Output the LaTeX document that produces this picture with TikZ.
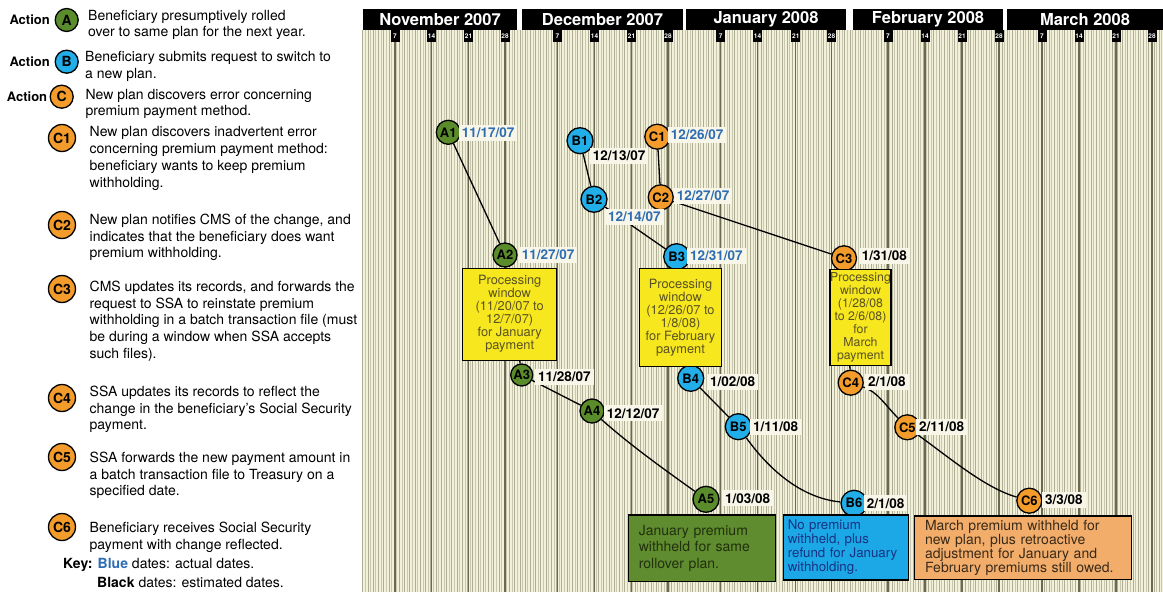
\documentclass[tikz,border=0pt]{standalone}
\usepackage{fontspec}
\setmainfont{TeX Gyre Heros}
\pgfdeclarelayer{bg}
\pgfdeclarelayer{lines}
\pgfsetlayers{bg,lines,main}
\definecolor{cream}{HTML}{F4F1DA}
\definecolor{stripeA}{HTML}{ADAE94}
\definecolor{stripeB}{HTML}{C8C8B0}
\definecolor{weekc}{HTML}{6A6A52}
\definecolor{gA}{HTML}{5B8C2C}
\definecolor{bB}{HTML}{22AEE8}
\definecolor{oC}{HTML}{F39B2B}
\definecolor{datebl}{HTML}{2E6DB4}
\definecolor{lblbg}{HTML}{F8F6E8}
\definecolor{yel}{HTML}{F6E71E}
\definecolor{ytext}{HTML}{5A5224}
\definecolor{gboxc}{HTML}{5F8C2E}
\definecolor{gtext}{HTML}{22300E}
\definecolor{bboxc}{HTML}{1CA8E6}
\definecolor{btext}{HTML}{173283}
\definecolor{oboxc}{HTML}{F2AD6B}
\definecolor{otext}{HTML}{3A2A18}
\begin{document}
\begin{tikzpicture}[x=1pt,y=-1pt,
  ev/.style={circle, draw=black, line width=1.3pt, inner sep=0pt, minimum size=25pt, font=\fontsize{13}{13}\selectfont\bfseries},
  evA/.style={ev, fill=gA, minimum size=24pt},
  evB/.style={ev, fill=bB, minimum size=26pt},
  evC/.style={ev, fill=oC},
  legA/.style={ev, fill=gA, minimum size=23pt, font=\fontsize{14}{14}\selectfont\bfseries},
  legB/.style={legA, fill=bB},
  legC/.style={legA, fill=oC},
  legCn/.style={legC, minimum size=27pt},
  dt/.style={anchor=west, fill=lblbg, inner xsep=3pt, inner ysep=3pt, font=\fontsize{13.5}{14}\selectfont\bfseries},
  dtb/.style={dt, text=datebl},
  link/.style={line width=1.3pt},
  pwin/.style={draw=black, line width=1.4pt, fill=yel, text=ytext, align=center, font=\fontsize{12.8}{13}\selectfont, inner sep=0pt},
  resbox/.style={draw=black, line width=1.4pt, align=left, inner ysep=0pt},
  leg/.style={anchor=north west, align=left, font=\fontsize{14}{16.7}\selectfont, inner sep=0pt},
  act/.style={anchor=west, inner sep=0pt, font=\fontsize{13}{13}\selectfont\bfseries},
  monthbar/.style={fill=black, text=white, inner sep=0pt, minimum height=21pt, font=\fontsize{16.5}{16.5}\selectfont\bfseries},
  wk/.style={fill=black, text=white, inner sep=0pt, minimum width=9pt, minimum height=12pt, font=\fontsize{6.5}{6.5}\selectfont\bfseries}
]
\useasboundingbox (0,0) rectangle (1163,597);
\begin{pgfonlayer}{bg}
\fill[white] (0,0) rectangle (1163,597);
\fill[cream] (362,30) rectangle (1163,592);
\foreach \i in {0,2,...,304} \draw[stripeA, line width=1pt] ({362.8+\i*2.62},30) -- ++(0,562);
\foreach \i in {1,3,...,305} \draw[stripeB, line width=0.9pt] ({362.8+\i*2.62},30) -- ++(0,562);
\foreach \x in {395,431.5,468.5,505,557.5,594.5,631.5,668,720.8,757.5,795.8,831.5,888,925,962,999,1042,1079,1116,1152}
  \draw[weekc, line width=1.1pt] (\x,40) -- (\x,592);
\end{pgfonlayer}

% month header
\foreach \xa/\xb/\nm/\id in {363/517/November 2007/mNov, 522/683/December 2007/mDec, 686/846/January 2008/mJan, 853/1003/February 2008/mFeb, 1007/1163/March 2008/mMar}
  \node[monthbar, minimum width={\xb-\xa}] (\id) at ({(\xa+\xb)/2},19.5) {\nm};
\foreach \x/\d/\id in {395/7/w1,431.5/14/w2,468.5/21/w3,505/28/w4,557.5/7/w5,594.5/14/w6,631.5/21/w7,668/28/w8,720.8/7/w9,757.5/14/w10,795.8/21/w11,831.5/28/w12,888/7/w13,925/14/w14,962/21/w15,999/28/w16,1042/7/w17,1079/14/w18,1116/21/w19,1152/28/w20}
  \node[wk] (\id) at (\x,36) {\d};

% legend
\node[act] (actA) at (9.3,20) {Action};
\node[legA] (lA) at (66.7,20) {A};
\node[leg] (tA) at (88,9.8) {Beneficiary presumptively rolled\\over to same plan for the next year.};
\node[act] (actB) at (9.3,61.7) {Action};
\node[legB] (lB) at (66.7,61.7) {B};
\node[leg] (tB) at (85,51.5) {Beneficiary submits request to switch to\\a new plan.};
\node[act] (actC) at (6.7,96.7) {Action};
\node[legC] (lC) at (61.7,96.7) {C};
\node[leg] (tC) at (85.3,88.8) {New plan discovers error concerning\\premium payment method.};
\node[legCn] (lC1) at (62,138) {C1};
\node[leg] (tC1) at (89.5,126.5) {New plan discovers inadvertent error\\concerning premium payment method:\\beneficiary wants to keep premium\\withholding.};
\node[legCn] (lC2) at (62,225) {C2};
\node[leg] (tC2) at (89.5,213.8) {New plan notifies CMS of the change, and\\indicates that the beneficiary does want\\premium withholding.};
\node[legCn] (lC3) at (62,289) {C3};
\node[leg] (tC3) at (89.5,280.8) {CMS updates its records, and forwards the\\request to SSA to reinstate premium\\withholding in a batch transaction file (must\\be during a window when SSA accepts\\such files).};
\node[legCn] (lC4) at (62,398) {C4};
\node[leg] (tC4) at (89.5,385.8) {SSA updates its records to reflect the\\change in the beneficiary's Social Security\\payment.};
\node[legCn] (lC5) at (62,457) {C5};
\node[leg] (tC5) at (89.5,451.8) {SSA forwards the new payment amount in\\a batch transaction file to Treasury on a\\specified date.};
\node[legCn] (lC6) at (62,527) {C6};
\node[leg] (tC6) at (89.5,521.8) {Beneficiary receives Social Security\\payment with change reflected.};
\node[anchor=west, inner sep=0pt, font=\fontsize{14}{14}\selectfont] (key1) at (63,565) {\textbf{Key:} \textcolor{datebl}{\textbf{Blue}} dates: actual dates.};
\node[anchor=west, inner sep=0pt, font=\fontsize{14}{14}\selectfont] (key2) at (97,582) {\textbf{Black} dates: estimated dates.};

% events
\node[evA] (A1) at (448.3,132.3) {A1};
\node[evA] (A2) at (505,255) {A2};
\node[evA, minimum size=22pt] (A3) at (521.7,375) {A3};
\node[evA] (A4) at (592,411) {A4};
\node[evA, minimum size=26pt] (A5) at (706,499.3) {A5};
\node[evB] (B1) at (580,140.7) {B1};
\node[evB] (B2) at (594,199.3) {B2};
\node[evB] (B3) at (676.7,256.7) {B3};
\node[evB] (B4) at (690.7,378.3) {B4};
\node[evB] (B5) at (738.3,426.7) {B5};
\node[evB] (B6) at (854,503.3) {B6};
\node[evC] (C1) at (657.3,136.7) {C1};
\node[evC] (C2) at (660.7,197.3) {C2};
\node[evC] (C3) at (844,258.3) {C3};
\node[evC] (C4) at (850.7,382.7) {C4};
\node[evC] (C5) at (907.3,427.3) {C5};
\node[evC] (C6) at (1029.3,500.7) {C6};

% processing windows
\node[pwin, minimum width=94, minimum height=92] (W1) at (509.7,314.2) {Processing\\window\\(11/20/07 to\\12/7/07)\\for January\\payment};
\node[pwin, minimum width=82.4, minimum height=98.4] (W2) at (680.5,317.5) {Processing\\window\\(12/26/07 to\\1/8/08)\\for February\\payment};
\node[pwin, minimum width=59, minimum height=96.4, font=\fontsize{12.3}{13}\selectfont] (W3) at (860.5,317.5) {Processing\\window\\(1/28/08\\to 2/6/08)\\for\\March\\payment};

% result boxes
\node[resbox, fill=gboxc, text=gtext, inner xsep=10.5pt, text width=126.4pt, minimum height=66.7, font=\fontsize{14}{16.7}\selectfont] (RA) at (702,548.3) {January premium\\withheld for same\\rollover plan.};
\node[resbox, fill=bboxc, text=btext, inner xsep=4.5pt, text width=116pt, minimum height=65, font=\fontsize{13.3}{14}\selectfont] (RB) at (845.8,547.5) {\hyphenpenalty=10000 No premium\\withheld, plus\\refund for January\\withholding.};
\node[resbox, fill=oboxc, text=otext, inner xsep=10.7pt, text width=196pt, minimum height=63.3, font=\fontsize{14}{14}\selectfont] (RC) at (1023,547.7) {March premium withheld for\\new plan, plus retroactive\\adjustment for January and\\February premiums still owed.};

% date labels
\node[dtb] (dA1) at (458.7,133) {11/17/07};
\node[dtb] (dA2) at (518.7,255) {11/27/07};
\node[dt] (dA3) at (535,377) {11/28/07};
\node[dt] (dA4) at (603.7,413.3) {12/12/07};
\node[dt] (dA5) at (722,498.3) {1/03/08};
\node[dt] (dB1) at (589.7,156) {12/13/07};
\node[dtb] (dB2) at (605,217) {12/14/07};
\node[dtb] (dB3) at (687,255.7) {12/31/07};
\node[dt] (dB4) at (707,381.7) {1/02/08};
\node[dt] (dB5) at (750,426.7) {1/11/08};
\node[dt] (dB6) at (863.7,503.3) {2/1/08};
\node[dtb] (dC1) at (667.7,135) {12/26/07};
\node[dtb] (dC2) at (673.7,195.7) {12/27/07};
\node[dt] (dC3) at (858.7,255.7) {1/31/08};
\node[dt] (dC4) at (865,381.7) {2/1/08};
\node[dt] (dC5) at (916,426.7) {2/11/08};
\node[dt] (dC6) at (1042,500) {3/3/08};

% connectors
\begin{pgfonlayer}{lines}
\draw[link] (A1) -- (A2);
\draw[link] (A2) -- (A3);
\draw[link] (A3) -- (A4);
\draw[link] (A4) .. controls (630,445) and (665,470) .. (A5);
\draw[link] (B1) -- (B2);
\draw[link] (B2) -- (B3);
\draw[link] (B3) -- (B4);
\draw[link] (B4) -- (B5);
\draw[link] (B5) .. controls (768,468) and (800,498) .. (B6);
\draw[link] (C1) -- (C2);
\draw[link] (C2) -- (C3);
\draw[link] (C3) -- (C4);
\draw[link] (C4) .. controls (878,392) and (885,405) .. (C5);
\draw[link] (C5) .. controls (950,458) and (985,488) .. (C6);
\end{pgfonlayer}
\end{tikzpicture}
\end{document}
